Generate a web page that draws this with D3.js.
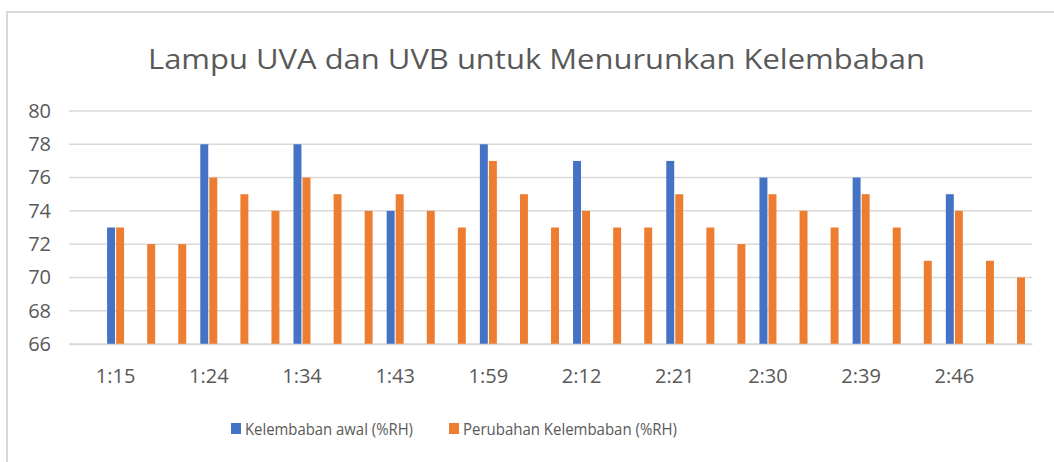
<!DOCTYPE html>
<html>
<head>
<meta charset="utf-8">
<script src="https://cdn.jsdelivr.net/npm/d3@7"></script>
<style>
  body { margin: 0; background: #fff; }
  text { font-family: "Open Sans", sans-serif; fill: #595959; }
</style>
</head>
<body>
<div id="chart"></div>
<script>
// categories: only every 3rd time is labelled on the axis; the first slot is empty
var categories = ["", "1:15", "", "", "1:24", "", "", "1:34", "", "", "1:43", "", "", "1:59", "", "",
  "2:12", "", "", "2:21", "", "", "2:30", "", "", "2:39", "", "", "2:46", "", ""];
var awal = [null, 73, null, null, 78, null, null, 78, null, null, 74, null, null, 78, null, null,
  77, null, null, 77, null, null, 76, null, null, 76, null, null, 75, null, null];
var perubahan = [null, 73, 72, 72, 76, 75, 74, 76, 75, 74, 75, 74, 73, 77, 75, 73,
  74, 73, 73, 75, 73, 72, 75, 74, 73, 75, 73, 71, 74, 71, 70];
var seriesNames = ["Kelembaban awal (%RH)", "Perubahan Kelembaban (%RH)"];
var seriesColors = ["#4472C4", "#ED7D31"];
var yTicks = [66, 68, 70, 72, 74, 76, 78, 80];

var W = 1054, H = 462;
var plotLeft = 69, plotRight = 1032, plotTop = 111, plotBottom = 344;

var svg = d3.select("#chart").append("svg").attr("width", W).attr("height", H);

// chart area border
svg.append("rect").attr("x", 7).attr("y", 12).attr("width", W).attr("height", H)
  .attr("fill", "#fff").attr("stroke", "#d9d9d9").attr("stroke-width", 2);

svg.append("text").attr("x", 148).attr("y", 69)
  .attr("font-size", 27)
  .attr("textLength", 777).attr("lengthAdjust", "spacingAndGlyphs")
  .text("Lampu UVA dan UVB untuk Menurunkan Kelembaban");

var x0 = d3.scaleBand().domain(d3.range(categories.length)).range([plotLeft, plotRight]);
var bw = x0.bandwidth();
var x1 = d3.scaleBand().domain([0, 1]).range([bw / 2 - 8.5, bw / 2 + 8.5]).paddingInner(0.12);
var y = d3.scaleLinear().domain([66, 80]).range([plotBottom, plotTop]);

// gridlines
svg.append("g").selectAll("line").data(yTicks).enter().append("line")
  .attr("x1", plotLeft).attr("x2", plotRight)
  .attr("y1", function(d) { return y(d); }).attr("y2", function(d) { return y(d); })
  .attr("stroke", "#d9d9d9").attr("stroke-width", 1.5);

// y axis labels
var yAxis = svg.append("g").attr("transform", "translate(" + plotLeft + ",0)")
  .call(d3.axisLeft(y).tickValues(yTicks).tickSize(0).tickPadding(18));
yAxis.select(".domain").remove();
yAxis.selectAll("text").attr("font-size", 20).attr("font-family", null).attr("fill", "#595959");

// bars
var series = [awal, perubahan];
series.forEach(function(vals, s) {
  var pts = vals.map(function(v, i) { return { i: i, v: v }; })
    .filter(function(d) { return d.v != null; });
  svg.append("g").selectAll("rect").data(pts).enter().append("rect")
    .attr("x", function(d) { return x0(d.i) + x1(s); })
    .attr("width", x1.bandwidth())
    .attr("y", function(d) { return y(d.v); })
    .attr("height", function(d) { return y(66) - y(d.v); })
    .attr("fill", seriesColors[s]);
});

// x axis
var xAxis = svg.append("g").attr("transform", "translate(0," + plotBottom + ")")
  .call(d3.axisBottom(x0).tickSize(0).tickFormat(function(i) { return categories[i]; }));
xAxis.select(".domain").attr("stroke", "#d9d9d9").attr("stroke-width", 1.5);
xAxis.selectAll("text").attr("font-size", 20).attr("font-family", null).attr("fill", "#595959")
  .attr("y", 39).attr("dy", null);

// legend
var legendX = [231, 449], legendText = [245, 463], legendLen = [168, 214];
seriesNames.forEach(function(name, s) {
  svg.append("rect").attr("x", legendX[s]).attr("y", 423).attr("width", 10).attr("height", 11)
    .attr("fill", seriesColors[s]);
  svg.append("text").attr("x", legendText[s]).attr("y", 435)
    .attr("font-size", 16.5)
    .attr("textLength", legendLen[s]).attr("lengthAdjust", "spacingAndGlyphs")
    .text(name);
});
</script>
</body>
</html>
